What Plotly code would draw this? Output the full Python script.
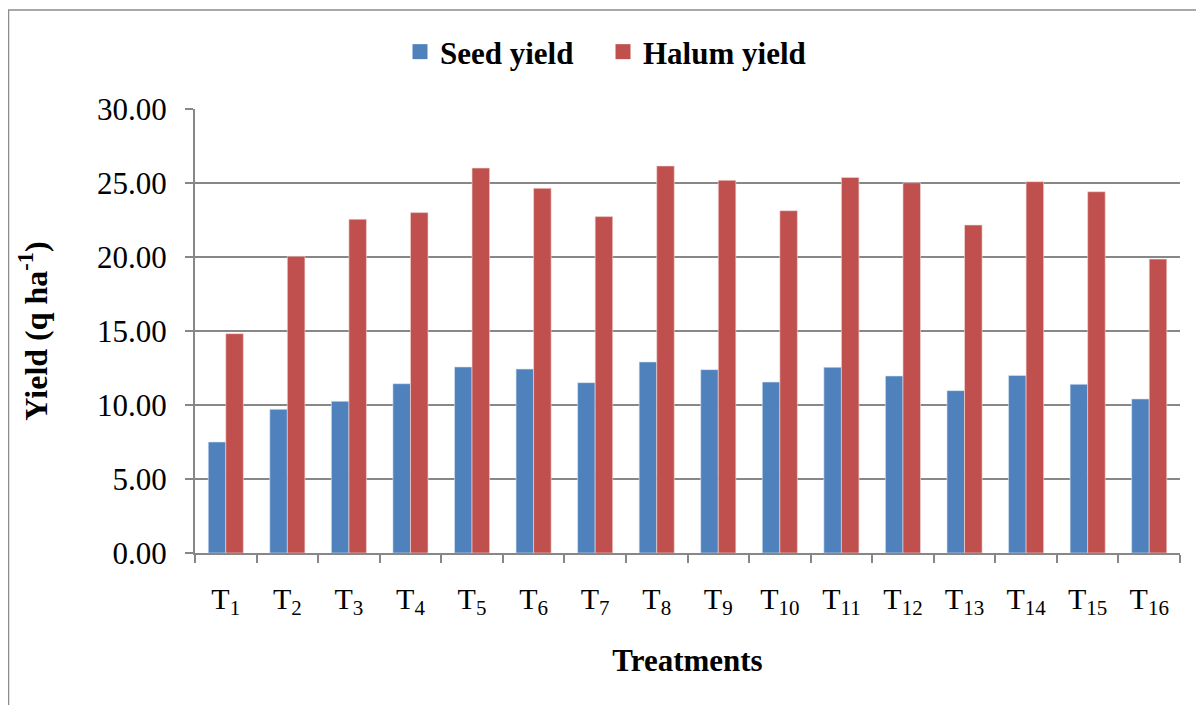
import plotly.graph_objects as go

treatments = ["T<sub>%d</sub>" % i for i in range(1, 17)]
seed_yield = [7.50, 9.71, 10.25, 11.44, 12.57, 12.43, 11.51, 12.91,
              12.39, 11.55, 12.55, 11.96, 10.97, 12.00, 11.40, 10.41]
halum_yield = [14.82, 20.05, 22.55, 23.00, 26.01, 24.64, 22.73, 26.15,
               25.18, 23.13, 25.38, 25.02, 22.16, 25.09, 24.41, 19.86]
y_ticks = [0, 5, 10, 15, 20, 25, 30]

W, H = 1204, 705
# page body has an 8px margin; screen coords = figure coords + 8
L, R, T, B = 187, 32, 101, 160
grid = "#878787"
serif = "Liberation Serif, Times New Roman, serif"

fig = go.Figure()
fig.add_trace(go.Bar(name="Seed yield", x=treatments, y=seed_yield, showlegend=False,
                     marker=dict(color="#4F81BD", line=dict(color="#dce6f2", width=0.6))))
fig.add_trace(go.Bar(name="Halum yield", x=treatments, y=halum_yield, showlegend=False,
                     marker=dict(color="#C0504D", line=dict(color="#f2dcdb", width=0.6))))
# legend entries with larger square swatches
fig.add_trace(go.Scatter(name="Seed yield", x=[None], y=[None], mode="markers",
                         marker=dict(symbol="square", size=15, color="#4F81BD")))
fig.add_trace(go.Scatter(name="Halum yield", x=[None], y=[None], mode="markers",
                         marker=dict(symbol="square", size=15, color="#C0504D")))

pw = W - L - R
ph = H - T - B
px = lambda p: (p - L) / pw
py = lambda p: (H - B - p) / ph
fig.add_shape(type="rect", xref="paper", yref="paper",
              x0=px(0.5), x1=px(W + 20), y0=py(H + 20), y1=py(2),
              line=dict(color="#8c8c8c", width=1.5), fillcolor="rgba(0,0,0,0)")

fig.update_layout(
    width=W, height=H,
    margin=dict(l=L, r=R, t=T, b=B),
    paper_bgcolor="white", plot_bgcolor="white",
    barmode="group", bargap=0.43, bargroupgap=0,
    font=dict(family=serif, color="black"),
    legend=dict(orientation="h", xref="container", yref="container",
                x=392 / W, xanchor="left", y=1 - 44 / H, yanchor="middle",
                font=dict(size=31, family=serif, weight="bold"),
                entrywidth=158, entrywidthmode="pixels",
                traceorder="normal"),
    xaxis=dict(
        type="category", showgrid=False, showline=True, linecolor=grid, linewidth=2,
        ticks="outside", tickson="boundaries", ticklen=8, tickcolor=grid, tickwidth=2,
        tickfont=dict(size=30, family=serif), ticklabelstandoff=18,
        title=dict(text="Treatments", font=dict(size=31, family=serif, weight="bold"), standoff=30),
    ),
    yaxis=dict(
        range=[0, 30], tickvals=y_ticks, tickformat=".2f",
        showgrid=True, gridcolor=grid, gridwidth=1.5,
        showline=True, linecolor=grid, linewidth=2,
        ticks="outside", ticklen=8, tickcolor=grid, tickwidth=2,
        tickfont=dict(size=31, family=serif), ticklabelstandoff=12,
        zeroline=False,
        title=dict(text="Yield (q ha<sup>-1</sup>)", font=dict(size=32, family=serif, weight="bold"), standoff=40),
    ),
)

fig.write_html("out.html")
